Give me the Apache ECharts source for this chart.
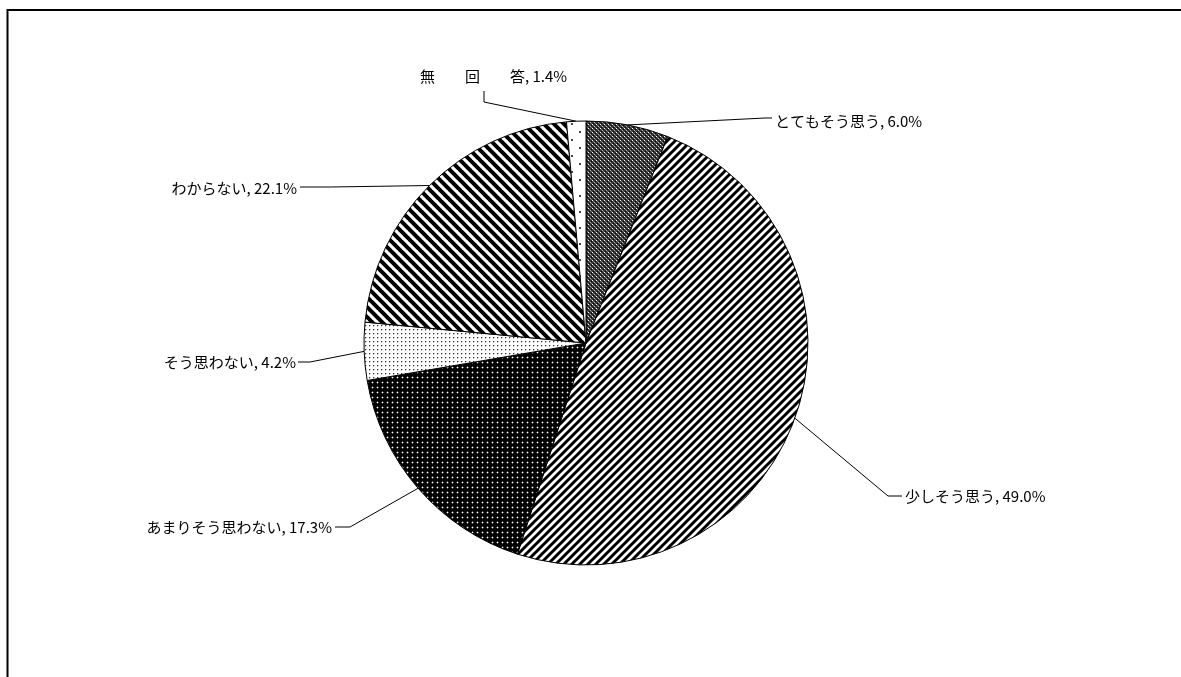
<!DOCTYPE html>
<html>
<head>
<meta charset="utf-8">
<script src="https://cdn.jsdelivr.net/npm/echarts@6/dist/echarts.min.js"></script>
<style>
html,body{margin:0;padding:0;background:#fff;}
#main{width:1181px;height:677px;}
</style>
</head>
<body>
<div id="main"></div>
<script>
// ---- data ----
const categories = ['とてもそう思う', '少しそう思う', 'あまりそう思わない', 'そう思わない', 'わからない', '無　　回　　答'];
const values = [6.0, 49.0, 17.3, 4.2, 22.1, 1.4];

// ---- pattern tiles ----
function tile(size, draw) {
  const c = document.createElement('canvas');
  c.width = size; c.height = size;
  const ctx = c.getContext('2d');
  draw(ctx, size);
  return c;
}
function px(ctx, x, y, col) { ctx.fillStyle = col; ctx.fillRect(x, y, 1, 1); }

const patCross = tile(4, (ctx, s) => {
  ctx.fillStyle = '#333'; ctx.fillRect(0, 0, s, s);
  px(ctx, 0, 0, '#ffffff');
  px(ctx, 2, 2, '#bdbdbd');
  px(ctx, 1, 1, '#7a7a7a'); px(ctx, 3, 3, '#7a7a7a');
  px(ctx, 1, 3, '#000'); px(ctx, 3, 1, '#000');
});
function stripes(size, w, dir) {
  return tile(size, (ctx, s) => {
    ctx.fillStyle = '#fff'; ctx.fillRect(0, 0, s, s);
    ctx.strokeStyle = '#000'; ctx.lineWidth = w;
    ctx.beginPath();
    for (let o = -s; o <= s; o += s) {
      if (dir === '/') { ctx.moveTo(o - 1, s + 1); ctx.lineTo(o + s + 1, -1); }
      else { ctx.moveTo(o - 1, -1); ctx.lineTo(o + s + 1, s + 1); }
    }
    ctx.stroke();
  });
}
const patSlash = stripes(8, 3, '/');
const patBack = stripes(10, 4, '\\');
const patBlackDots = tile(5, (ctx, s) => {
  ctx.fillStyle = '#000'; ctx.fillRect(0, 0, s, s);
  px(ctx, 2, 2, '#ffffff');
  px(ctx, 1, 2, '#555'); px(ctx, 3, 2, '#555'); px(ctx, 2, 1, '#555'); px(ctx, 2, 3, '#555');
});
const patLightDots = tile(4, (ctx, s) => {
  ctx.fillStyle = '#fff'; ctx.fillRect(0, 0, s, s);
  px(ctx, 1, 1, '#333');
  px(ctx, 2, 1, '#bbb'); px(ctx, 1, 2, '#bbb');
});
const patSparse = tile(16, (ctx, s) => {
  ctx.fillStyle = '#fff'; ctx.fillRect(0, 0, s, s);
  ctx.fillStyle = '#444';
  ctx.fillRect(3, 3, 2, 2);
  ctx.fillRect(11, 11, 2, 2);
});
const patterns = [patCross, patSlash, patBlackDots, patLightDots, patBack, patSparse];

// ---- label placement (pixel layout) ----
const labelPos = [
  { x: 775, y: 121, align: 'left',  knee: [765, 118], end: [772, 118] },
  { x: 905, y: 496, align: 'left',  knee: [888, 496], end: [902, 496] },
  { x: 332, y: 527, align: 'right', knee: [350, 527], end: [335, 527] },
  { x: 296, y: 362, align: 'right', knee: [310, 362], end: [298, 362] },
  { x: 297, y: 188, align: 'right', knee: [330, 187], end: [300, 187] },
  { x: 420, y: 76,  align: 'left',  knee: [484, 102], end: [484, 91] }
];

const chart = echarts.init(document.getElementById('main'), null, { renderer: 'canvas' });
const data = categories.map((n, i) => ({
  name: n, value: values[i],
  itemStyle: { color: { image: patterns[i], repeat: 'repeat' } }
}));

chart.setOption({
  animation: false,
  backgroundColor: '#fff',
  graphic: [{
    type: 'rect', silent: true,
    shape: { x: 7.5, y: 10, width: 1400, height: 900 },
    style: { fill: 'none', stroke: '#000', lineWidth: 2 }
  }],
  series: [{
    type: 'pie',
    center: [586, 343],
    radius: 222,
    startAngle: 90,
    clockwise: true,
    avoidLabelOverlap: false,
    silent: true,
    emphasis: { disabled: true },
    itemStyle: { borderColor: '#000', borderWidth: 1 },
    label: {
      show: true, position: 'outside',
      color: '#000',
      fontFamily: '"Noto Sans CJK JP", sans-serif',
      fontSize: 15,
      formatter: p => p.name + ', ' + p.value.toFixed(1) + '%'
    },
    labelLine: { show: true, length: 20, length2: 10, lineStyle: { color: '#000', width: 1 } },
    labelLayout: function (params) {
      const lp = labelPos[params.dataIndex];
      const pts = params.labelLinePoints;
      const start = pts && pts[0] ? pts[0] : lp.knee;
      return {
        x: lp.x, y: lp.y, align: lp.align, verticalAlign: 'middle',
        labelLinePoints: [start, lp.knee, lp.end]
      };
    },
    data: data
  }]
});
</script>
</body>
</html>
